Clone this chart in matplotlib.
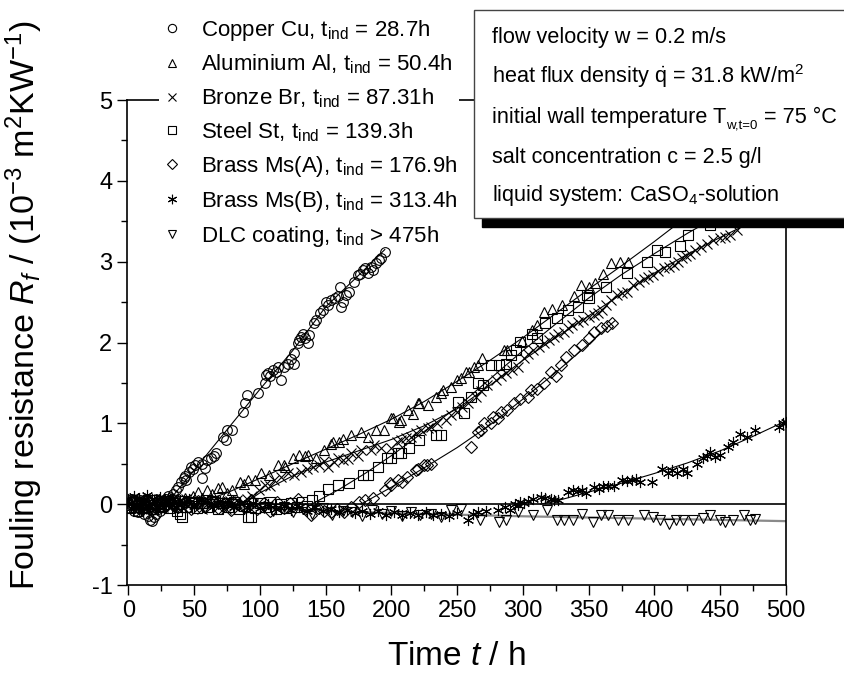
import matplotlib
matplotlib.use("Agg")
import matplotlib.pyplot as plt
from matplotlib.patches import Rectangle

plt.rcParams['font.family'] = ['Liberation Sans', 'DejaVu Sans']
plt.rcParams['mathtext.fontset'] = 'custom'
plt.rcParams['mathtext.rm'] = 'Liberation Sans'
plt.rcParams['mathtext.it'] = 'Liberation Sans:italic'
plt.rcParams['mathtext.bf'] = 'Liberation Sans:bold'
plt.rcParams['axes.unicode_minus'] = False

# ---------------- data ----------------
cu_t = [0, 1.5, 3, 4.5, 6, 7.5, 9, 10.5, 12, 13.5, 15, 16.5, 18, 19.5, 21, 22.5, 24, 25.5, 27, 28.5, 30, 32, 34,
        36, 38, 40, 42, 43, 44, 46, 48, 49.5, 51, 53, 56, 56, 58, 60, 63, 65, 67, 72, 74, 75, 78.5, 87.4, 88.5,
        90.4, 98.8, 103.6, 104.4, 106, 108, 110, 112, 114, 116.4, 118, 121.5, 124, 126, 126, 129, 130, 131.6,
        133, 134, 136.7, 137.7, 141, 143, 145.4, 148, 150.6, 152, 154.4, 157, 159.4, 161, 162, 163, 165.7, 168,
        171.8, 174.6, 176, 178.4, 180, 182, 184.7, 186, 188.5, 190.8, 192, 195.3]
cu_r = [0.02, -0.05, 0.06, -0.08, 0.03, -0.10, 0.05, -0.06, -0.12, -0.04, -0.15, -0.19, -0.21, -0.16, -0.12, -0.06,
        -0.08, 0.00, 0.03, 0.07, 0.10, 0.05, 0.12,
        0.18, 0.21, 0.28, 0.32, 0.35, 0.30, 0.40, 0.46, 0.44, 0.48, 0.52, 0.32, 0.50, 0.45, 0.55, 0.57, 0.60, 0.63,
        0.83, 0.80, 0.92, 0.92, 1.14, 1.25, 1.35, 1.38, 1.50, 1.60, 1.62, 1.58, 1.66, 1.64, 1.70, 1.53, 1.70, 1.74,
        1.80, 1.87, 1.74, 1.99, 2.03, 2.07, 2.10, 2.05, 1.99, 2.09, 2.24, 2.28, 2.36, 2.40, 2.50, 2.46, 2.52, 2.55,
        2.57, 2.69, 2.44, 2.50, 2.59, 2.62, 2.75, 2.83, 2.85, 2.90, 2.92, 2.86, 2.94, 2.90, 2.98, 3.02, 3.05, 3.12]
cu_fit_t = [28.7, 50, 75, 100, 125, 150, 175, 195]
cu_fit_r = [0.0, 0.42, 0.92, 1.42, 1.90, 2.44, 2.83, 3.15]

al_t = [1, 4, 7, 10, 13, 16, 19, 22, 25, 28, 31, 34, 37, 40, 43, 46, 49,
        53, 56, 60, 64, 68, 71, 75, 79, 84.6, 88, 91, 96, 101, 107, 114, 118, 119, 125, 130, 134, 136.7, 143,
        149, 154.4, 155.6, 160.5, 163, 169.5, 177, 182, 188.5, 194.6, 199.8, 201, 206, 207.4, 212.5, 216.3, 220,
        221, 227.7, 234, 237.7, 239, 245, 250, 253, 257, 259, 263, 265.6, 269, 285.6, 288, 299, 307, 311, 316,
        322, 330, 339, 344, 350, 355, 361, 367, 374, 380]
al_r = [0.05, -0.03, 0.08, 0.02, -0.05, 0.06, 0.00, 0.07, -0.02, 0.04, 0.09, 0.01, 0.06, -0.03, 0.08, 0.03, 0.10,
        0.15, 0.08, 0.17, 0.12, 0.20, 0.21, 0.14, 0.17, 0.28, 0.25, 0.30, 0.30, 0.38, 0.36, 0.48, 0.48, 0.46, 0.57,
        0.61, 0.59, 0.61, 0.57, 0.67, 0.75, 0.77, 0.77, 0.81, 0.85, 0.89, 0.83, 0.92, 0.92, 1.06, 1.06, 1.02, 1.04,
        1.16, 1.12, 1.25, 1.25, 1.23, 1.33, 1.37, 1.41, 1.45, 1.53, 1.56, 1.64, 1.64, 1.70, 1.72, 1.81, 1.91, 1.91,
        2.02, 2.15, 2.22, 2.38, 2.42, 2.46, 2.57, 2.71, 2.69, 2.73, 2.85, 2.98, 3.00, 3.00]
al_fit_t = [50.4, 75, 100, 125, 150, 175, 200, 225, 250, 275, 300, 325, 350, 375, 400, 420]
al_fit_r = [0.0, 0.14, 0.32, 0.50, 0.68, 0.86, 1.05, 1.27, 1.52, 1.78, 2.06, 2.36, 2.66, 2.95, 3.25, 3.50]

br_t = [2, 5, 8, 11, 14, 17, 20, 23, 26, 29, 32, 35, 38, 41, 44, 47, 50, 53, 56, 59, 62, 65, 68, 71, 74, 77, 80,
        83, 86, 90, 94, 99, 103.8, 108, 111, 116, 121.5, 126, 131.6, 136, 140.5, 145, 149, 152, 156, 159.4, 163,
        167, 169.5, 174.6, 177, 184.7, 187, 192, 199.8, 204, 207.4, 211, 215, 219, 222.6, 227.7, 230, 235, 241.5,
        245, 250, 254, 258, 264, 268, 273, 279.4, 283, 287, 292, 296, 300.7, 304, 308, 312, 316, 320, 323.4, 327,
        331, 334, 337.6, 342, 346, 350, 353.7, 357, 360, 363, 366.7, 371.7, 375, 379, 384, 388, 391.8, 395, 399,
        403, 407, 411, 414.6, 418, 421, 424, 427, 431, 435, 440, 444.8, 450, 454, 457.6, 462.7]
br_r = [0.02, -0.04, 0.06, -0.02, 0.04, -0.06, 0.03, 0.07, -0.03, 0.02, -0.05, 0.05, 0.00, -0.04, 0.06, 0.02,
        -0.03, 0.04, -0.06, 0.03, -0.02, 0.05, -0.04, 0.02, -0.06, 0.04, -0.02, 0.05, 0.00, 0.06, 0.10, 0.18, 0.24,
        0.22, 0.30, 0.33, 0.38, 0.36, 0.40, 0.44, 0.46, 0.48, 0.54, 0.46, 0.52, 0.57, 0.55, 0.56, 0.63, 0.59, 0.67,
        0.67, 0.73, 0.70, 0.70, 0.77, 0.80, 0.82, 0.83, 0.88, 0.92, 0.94, 0.96, 1.00, 1.04, 1.10, 1.14, 1.20, 1.25,
        1.33, 1.40, 1.47, 1.53, 1.58, 1.62, 1.66, 1.70, 1.81, 1.86, 1.91, 1.95, 1.99, 2.03, 2.07, 2.10, 2.13, 2.18,
        2.22, 2.25, 2.28, 2.31, 2.34, 2.37, 2.40, 2.46, 2.52, 2.59, 2.61, 2.63, 2.71, 2.75, 2.79, 2.81, 2.83, 2.88,
        2.92, 2.94, 2.96, 3.00, 3.04, 3.07, 3.10, 3.14, 3.18, 3.22, 3.27, 3.29, 3.31, 3.33, 3.39]
br_fit_t = [87.3, 100, 125, 150, 175, 200, 225, 250, 275, 300, 325, 350, 375, 400, 425, 450, 470]
br_fit_r = [0.0, 0.14, 0.35, 0.52, 0.66, 0.80, 0.97, 1.18, 1.47, 1.78, 2.06, 2.33, 2.60, 2.86, 3.09, 3.30, 3.46]

st_t = [1, 4, 7, 10, 13, 16, 19, 22, 25, 28, 31, 34, 37, 39, 40.6, 44, 48, 52, 56, 60, 64, 68, 72, 76, 80, 84, 88,
        91, 93, 96, 100, 104, 108, 112, 116, 120, 124, 128, 132, 136, 140, 145,
        152, 159.4, 168, 178.4, 182, 190, 197, 200, 205, 207, 213.6, 221, 234, 237.7, 251, 255, 260.5, 265.6, 270,
        275.6, 282, 287, 290.8, 294.6, 298, 307, 311, 317, 326, 334, 342, 349, 350, 363, 379, 394.5, 402, 408,
        419.6, 425.6, 442]
st_r = [-0.05, 0.03, -0.08, 0.02, -0.04, 0.05, -0.06, 0.01, -0.03, 0.04, -0.05, 0.02, -0.08, -0.12, -0.16, -0.04,
        0.03, -0.05, 0.02, -0.03, 0.04, -0.06, 0.01, -0.04, 0.03, -0.06, -0.02, -0.16, -0.16, -0.05, 0.02, -0.04,
        0.03, -0.06, 0.00, -0.05, 0.02, -0.04, 0.03, -0.02, 0.05, 0.10,
        0.19, 0.24, 0.26, 0.36, 0.36, 0.46, 0.57, 0.57, 0.63, 0.63, 0.69, 0.79, 0.85, 0.85, 1.27, 1.13, 1.33, 1.50,
        1.47, 1.72, 1.72, 1.74, 1.84, 1.91, 2.01, 2.11, 2.05, 2.24, 2.30, 2.40, 2.44, 2.59, 2.55, 2.69, 2.86, 3.00,
        3.14, 3.12, 3.20, 3.33, 3.45]
st_fit_t = [139.3, 160, 180, 200, 225, 250, 275, 300, 325, 350, 375, 400, 425, 450]
st_fit_r = [0.0, 0.18, 0.38, 0.60, 0.90, 1.20, 1.55, 1.90, 2.23, 2.55, 2.84, 3.10, 3.35, 3.58]

ma_t = [3, 8, 13, 18, 23, 28, 33, 38, 43, 48, 53, 58, 63, 68, 73, 78, 83, 88, 93, 98, 103, 108, 113, 118, 123,
        129, 134, 139, 144, 149, 154, 159, 164, 169, 175, 180, 186,
        194.8, 198.6, 200, 205, 208, 212, 219, 220, 225, 227, 230, 260.5, 265.6, 268, 270.5, 275.7, 277, 280.7,
        283, 288, 293, 298, 303.5, 306, 311, 316, 321, 325, 328.7, 332.5, 339, 345, 350, 354, 359, 364, 368]
ma_r = [0.04, -0.05, 0.03, -0.07, 0.05, -0.02, 0.06, -0.04, 0.02, -0.06, 0.04, -0.03, 0.05, -0.05, 0.02, -0.07,
        0.03, -0.04, 0.05, -0.06, 0.02, -0.08, 0.03, -0.05, 0.01, 0.07, -0.06, -0.14, -0.05, -0.09, -0.10, -0.06,
        -0.10, -0.03, 0.03, 0.05, 0.08,
        0.17, 0.26, 0.24, 0.30, 0.28, 0.34, 0.42, 0.44, 0.48, 0.48, 0.50, 0.71, 0.89, 0.92, 1.00, 1.00, 1.08, 1.06,
        1.14, 1.16, 1.25, 1.30, 1.33, 1.41, 1.43, 1.50, 1.64, 1.58, 1.72, 1.82, 1.91, 1.97, 2.05, 2.13, 2.18, 2.20,
        2.24]
ma_fit_t = [176.9, 200, 225, 250, 275, 300, 325, 350, 370]
ma_fit_r = [0.0, 0.21, 0.45, 0.70, 0.98, 1.30, 1.63, 1.98, 2.27]

mb_t = [0, 2, 4, 6, 8, 10, 12, 14, 16, 18, 20, 22, 24, 26, 28, 30, 33, 36, 39, 42, 46, 50, 55, 60, 65, 70, 75,
        80, 85, 90, 95, 100, 106, 112, 118, 124, 130, 136, 142, 148, 154, 160, 166, 172, 178, 184, 190, 196, 202,
        208, 214, 220, 226, 232, 238, 244, 250, 258, 262, 265.6, 272, 281, 286, 290, 294, 296, 298, 301, 304, 308,
        313.5, 317, 321, 324, 326.7, 334, 338, 342, 345, 348, 354, 358, 361, 365, 369, 375.5, 379, 383, 386, 389,
        398, 406, 410, 413, 417, 422, 424.5, 432, 437, 440, 442, 446, 450, 456, 460, 465, 470, 476.6, 495, 498, 500]
mb_r = [0.06, -0.05, 0.10, -0.02, 0.08, -0.07, 0.05, 0.11, -0.03, 0.07, -0.06, 0.04, 0.09, -0.04, 0.06, 0.00,
        0.08, -0.03, 0.05, 0.02, 0.07, -0.02, 0.05, 0.03, -0.02, 0.04, 0.00, -0.03, 0.02, -0.04, 0.01, -0.05, 0.00,
        -0.06, -0.02, -0.07, -0.03, -0.08, -0.04, -0.09, -0.06, -0.10, -0.07, -0.11, -0.08, -0.12, -0.09, -0.13,
        -0.10, -0.14, -0.11, -0.13, -0.10, -0.14, -0.12, -0.15, -0.11, -0.20, -0.12, -0.10, -0.08, -0.07, -0.04,
        -0.07, 0.00, -0.01, 0.03, 0.01, 0.04, 0.06,
        0.09, 0.08, 0.07, 0.05, 0.05, 0.15, 0.17, 0.16, 0.18, 0.14, 0.21, 0.19, 0.23, 0.22, 0.23, 0.30, 0.29, 0.30,
        0.31, 0.28, 0.28, 0.44, 0.38, 0.42, 0.38, 0.44, 0.38, 0.50, 0.57, 0.60, 0.65, 0.58, 0.61, 0.71, 0.77, 0.87,
        0.83, 0.92, 0.96, 1.00, 1.02]
mb_fit_t = [313.4, 330, 350, 375, 400, 425, 450, 475, 500]
mb_fit_r = [0.0, 0.06, 0.15, 0.26, 0.38, 0.51, 0.66, 0.84, 1.03]

dlc_t = [5, 12, 20, 28, 35, 42, 50, 58, 65, 72, 80, 88, 95, 103, 110, 118, 125, 133, 140, 148, 155, 163, 170,
         178, 185, 193, 200, 208, 215, 222, 230, 238, 245, 253, 267, 282, 287, 296, 308, 318, 326, 331, 338, 345,
         353, 359, 365, 372, 380, 392, 399, 404, 411, 416, 422, 429, 437, 442.5, 450, 454, 460, 467.7, 472.6, 476.6]
dlc_r = [0.03, -0.02, 0.05, 0.00, -0.04, 0.04, 0.02, -0.05, 0.03, -0.02, 0.00, -0.06, 0.02, -0.05, -0.08, -0.03,
         -0.10, -0.06, -0.12, -0.05, -0.14, -0.08, -0.10, -0.15, -0.07, -0.12, -0.09, -0.15, -0.10, -0.14, -0.12,
         -0.16, -0.07, -0.06, -0.20, -0.22, -0.19, -0.10, -0.14, -0.07, -0.20, -0.19, -0.20, -0.12, -0.22, -0.14,
         -0.14, -0.19, -0.20, -0.14, -0.16, -0.19, -0.24, -0.20, -0.20, -0.19, -0.17, -0.14, -0.19, -0.22, -0.20,
         -0.14, -0.19, -0.18]
dlc_fit_t = [0, 100, 200, 300, 400, 500]
dlc_fit_r = [0.0, -0.05, -0.11, -0.15, -0.18, -0.21]

labels = [r'Copper Cu, t$_\mathrm{ind}$ = 28.7h',
          r'Aluminium Al, t$_\mathrm{ind}$ = 50.4h',
          r'Bronze Br, t$_\mathrm{ind}$ = 87.31h',
          r'Steel St, t$_\mathrm{ind}$ = 139.3h',
          r'Brass Ms(A), t$_\mathrm{ind}$ = 176.9h',
          r'Brass Ms(B), t$_\mathrm{ind}$ = 313.4h',
          r'DLC coating, t$_\mathrm{ind}$ > 475h']

# box lines: each given as pieces (text, is_subscript)
box_lines = [[('flow velocity w = 0.2 m/s', False)],
             [(r'heat flux density $\dot{\mathrm{q}}$ = 31.8 kW/m$^2$', False)],
             [('initial wall temperature T', False), ('w,t=0', True), (' = 75 °C', False)],
             [('salt concentration c = 2.5 g/l', False)],
             [(r'liquid system: CaSO$_4$-solution', False)]]

# ---------------- figure ----------------
W, H = 845, 676
fig = plt.figure(figsize=(W / 100, H / 100), dpi=100)
ax = fig.add_axes([127 / W, 1 - 585 / H, (786 - 127) / W, (585 - 100) / H])

series = [(cu_t, cu_r, 'o', 7.0, cu_fit_t, cu_fit_r),
          (al_t, al_r, '^', 7.5, al_fit_t, al_fit_r),
          (br_t, br_r, 'x', 7.0, br_fit_t, br_fit_r),
          (st_t, st_r, 's', 6.5, st_fit_t, st_fit_r),
          (ma_t, ma_r, 'D', 5.8, ma_fit_t, ma_fit_r),
          (mb_t, mb_r, (6, 2, 0), 8.0, mb_fit_t, mb_fit_r),
          (dlc_t, dlc_r, 'v', 7.5, dlc_fit_t, dlc_fit_r)]

ax.axhline(0, color='black', lw=1.2, zorder=1)
handles = []
for i, (t, r, m, ms, ft, fr) in enumerate(series):
    h, = ax.plot(t, r, ls='none', marker=m, ms=ms, mfc='none', mec='black', mew=0.8, zorder=7)
    handles.append(h)
    if i == 6:
        ax.plot(ft, fr, color='#8a8a8a', lw=1.6, zorder=2)
    else:
        ax.plot(ft, fr, color='black', lw=0.8, zorder=7)

ax.set_xlim(-1, 500)
ax.set_ylim(-1, 5)
ax.set_xticks(range(0, 501, 50))
ax.set_xticks(range(25, 500, 50), minor=True)
ax.set_yticks(range(-1, 6))
ax.set_yticks([-0.5, 0.5, 1.5, 2.5, 3.5, 4.5], minor=True)
ax.tick_params(which='both', direction='out', top=False, right=False, labelsize=17, width=1.0)
ax.tick_params(which='major', length=7)
ax.tick_params(which='minor', length=4)
for s in ax.spines.values():
    s.set_linewidth(1.2)

ax.set_xlabel(r'Time $t$ / h', fontsize=24)
ax.xaxis.set_label_coords(0.5, -0.115)
ax.set_ylabel(r'Fouling resistance $R_f$ / (10$^{-3}$ m$^2$KW$^{-1}$)', fontsize=24.5)
ax.yaxis.set_label_coords(-0.125, 0.577)

leg = ax.legend(handles, labels, loc='upper left', bbox_to_anchor=(148 / W, 1 - 5 / H),
                bbox_transform=fig.transFigure, frameon=True, fancybox=False, framealpha=1,
                facecolor='white', edgecolor='none', fontsize=16, handlelength=1.0,
                handletextpad=0.8, labelspacing=0.45, borderpad=0.08, markerscale=0.85)
leg.set_zorder(6)

# info box with shadow
shadow = Rectangle((482 / W, 1 - 227 / H), 400 / W, (227 - 18) / H, transform=fig.transFigure,
                   facecolor='black', edgecolor='black', zorder=8)
box = Rectangle((474 / W, 1 - 218 / H), 400 / W, (218 - 10) / H, transform=fig.transFigure,
                facecolor='white', edgecolor='#444444', lw=1.0, zorder=9)
fig.patches.extend([shadow, box])
renderer = fig.canvas.get_renderer()
baselines = [43, 83, 123, 163, 201]
for pieces, yb in zip(box_lines, baselines):
    xpix = 492
    for txt, sub in pieces:
        if sub:
            tt = fig.text(xpix / W, 1 - (yb + 5) / H, txt, fontsize=9.5, va='baseline', ha='left', zorder=10)
        else:
            tt = fig.text(xpix / W, 1 - yb / H, txt, fontsize=15.6, va='baseline', ha='left', zorder=10)
        bb = tt.get_window_extent(renderer)
        xpix = bb.x1

fig.savefig('out.png', dpi=100)
